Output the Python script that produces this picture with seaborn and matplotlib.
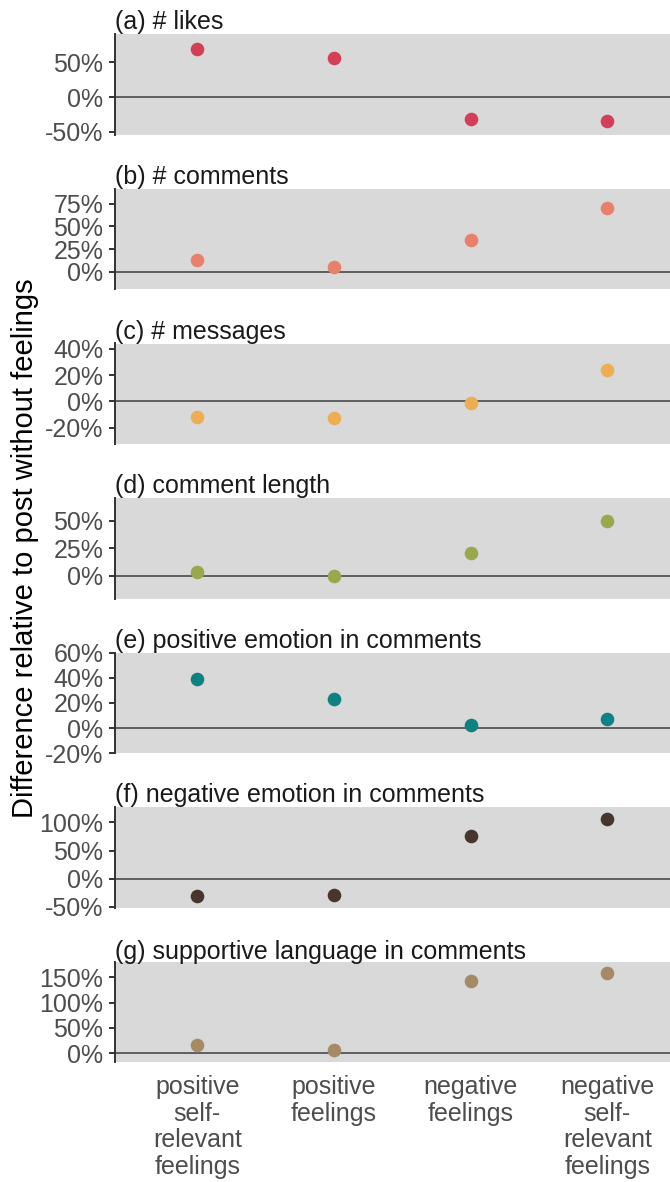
import matplotlib
matplotlib.use("Agg")
import matplotlib.pyplot as plt
import matplotlib.ticker as mticker
import numpy as np
import pandas as pd
import seaborn as sns

# Post types on the x axis
categories = [
    "positive\nself-\nrelevant\nfeelings",
    "positive\nfeelings",
    "negative\nfeelings",
    "negative\nself-\nrelevant\nfeelings",
]

# Panel titles
titles = [
    "(a) # likes",
    "(b) # comments",
    "(c) # messages",
    "(d) comment length",
    "(e) positive emotion in comments",
    "(f) negative emotion in comments",
    "(g) supportive language in comments",
]

# Difference relative to a post without feelings (%), one list per outcome
likes = [69.4, 56.9, -31.2, -34.0]
comments = [13.0, 4.9, 35.2, 70.8]
messages = [-11.6, -12.2, -1.0, 23.6]
comment_length = [3.9, -0.4, 20.4, 50.0]
positive_emotion = [39.4, 23.4, 2.4, 7.4]
negative_emotion = [-30.0, -29.0, 75.5, 106.6]
supportive_language = [16.7, 6.0, 143.4, 158.8]

series = [likes, comments, messages, comment_length,
          positive_emotion, negative_emotion, supportive_language]

# Y ticks and limits for each panel
yticks = [
    [-50, 0, 50],
    [0, 25, 50, 75],
    [-20, 0, 20, 40],
    [0, 25, 50],
    [-20, 0, 20, 40, 60],
    [-50, 0, 50, 100],
    [0, 50, 100, 150],
]
ylims = [
    (-54.2, 90.5),
    (-19.6, 91.6),
    (-32.2, 43.9),
    (-20.8, 70.8),
    (-20.0, 60.0),
    (-51.8, 126.8),
    (-18.5, 180.7),
]

colors = ["#D43F58", "#E8806C", "#EDAE53", "#9AA84D",
          "#0E8281", "#47352E", "#A68A66"]

sns.set_theme(style="white")
plt.rcParams["font.family"] = ["Liberation Sans", "DejaVu Sans"]

W, H = 670, 1182
fig = plt.figure(figsize=(W / 100, H / 100), dpi=100)

left_px = 115
panel_h = 100.5
first_top = 34.3
step = 154.6

for i, (title, vals) in enumerate(zip(titles, series)):
    top = first_top + i * step
    ax = fig.add_axes([left_px / W, 1 - (top + panel_h) / H,
                       1 - left_px / W, panel_h / H])
    df = pd.DataFrame({"type": categories, "value": vals})
    ax.axhline(0, color="#555555", lw=1.3, zorder=1)
    sns.stripplot(data=df, x="type", y="value", order=categories,
                  jitter=False, size=9.8, color=colors[i],
                  linewidth=0, ax=ax, zorder=3)
    ax.set_facecolor("#D9D9D9")
    ax.set_xlim(-0.602, 3.458)
    ax.set_ylim(*ylims[i])
    ax.set_yticks(yticks[i])
    ax.yaxis.set_major_formatter(mticker.FuncFormatter(lambda v, p: f"{v:.0f}%"))
    for s in ["top", "right", "bottom"]:
        ax.spines[s].set_visible(False)
    ax.spines["left"].set_color("#333333")
    ax.spines["left"].set_linewidth(1.4)
    ax.tick_params(axis="y", left=True, length=4.3, width=1.4, color="#333333",
                   pad=4, labelsize=18, labelcolor="#4D4D4D")
    ax.set_ylabel("")
    ax.set_xlabel("")
    ax.set_title(title, loc="left", fontsize=18, color="#1A1A1A", pad=2)
    if i < len(titles) - 1:
        ax.set_xticks([])
    else:
        ax.tick_params(axis="x", bottom=False, length=0, pad=9,
                       labelsize=18, labelcolor="#4D4D4D")
        for lab in ax.get_xticklabels():
            lab.set_linespacing(1.14)
            lab.set_ha("center")

fig.text(25 / W, 1 - 548 / H, "Difference relative to post without feelings",
         rotation=90, ha="center", va="center", fontsize=21, color="#000000")

fig.savefig("out.png", dpi=100)
